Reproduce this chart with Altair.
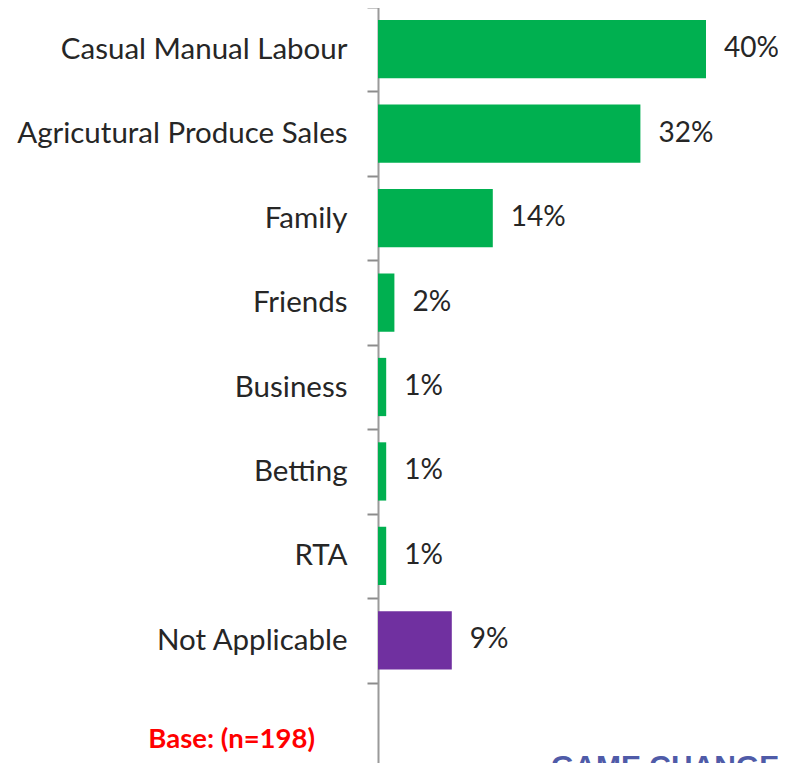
import altair as alt
import pandas as pd

categories = ["Casual Manual Labour", "Agricutural Produce Sales", "Family", "Friends",
              "Business", "Betting", "RTA", "Not Applicable"]
values = [40, 32, 14, 2, 1, 1, 1, 9]
bar_colors = ["#00B050"] * 7 + ["#7030A0"]
base_label = "Base: (n=198)"
logo_text = "GAME CHANGER"

df = pd.DataFrame({"cat": categories, "val": values, "color": bar_colors,
                   "label": [f"{v}%" for v in values]})
domain = categories + [base_label]

FONT = "Lato"
TXT = "#262626"

y = alt.Y("cat:N", sort=domain,
          scale=alt.Scale(domain=domain, range=[-1, 759], paddingInner=0, paddingOuter=0),
          axis=alt.Axis(title=None, tickBand="extent", tickSize=11, tickWidth=2, tickColor="#8c8c8c",
                        domainColor="#9a9a9a", domainWidth=2, labelPadding=20,
                        labelFont=FONT, labelFontSize=29.5, labelColor=TXT, labelLimit=400,
                        labelExpr=f"datum.label == '{base_label}' ? '' : datum.label"))
x = alt.X("val:Q", scale=alt.Scale(domain=[0, 400 / 8.2]), axis=None)

bars = alt.Chart(df).mark_bar(height=alt.RelativeBandSize(0.69)).encode(
    x=x, y=y, color=alt.Color("color:N", scale=None))
texts = alt.Chart(df).mark_text(align="left", baseline="middle", dx=18, font=FONT,
                                fontSize=28, color=TXT).encode(x=x, y=y, text="label:N")

base = alt.Chart(pd.DataFrame({"cat": [base_label]})).mark_text(
    align="right", baseline="middle", dy=15, font=FONT, fontSize=27.5, fontWeight="bold",
    color="#FF0000").encode(x=alt.value(-63), y=y, text="cat:N")

logo = alt.Chart(pd.DataFrame({"t": [logo_text]})).mark_text(
    align="left", baseline="alphabetic", font="Liberation Sans", fontSize=30, fontWeight="bold",
    color="#4F5BA8").encode(x=alt.value(173), y=alt.value(768), text="t:N")

chart = alt.layer(bars, texts, base, logo).properties(
    width=400, height=755,
    autosize=alt.AutoSizeParams(type="none"),
    padding={"left": 370, "top": 0, "right": 0, "bottom": 0},
).configure_view(stroke=None)

chart.save("out.html", embed_options={"renderer": "svg", "actions": False})
